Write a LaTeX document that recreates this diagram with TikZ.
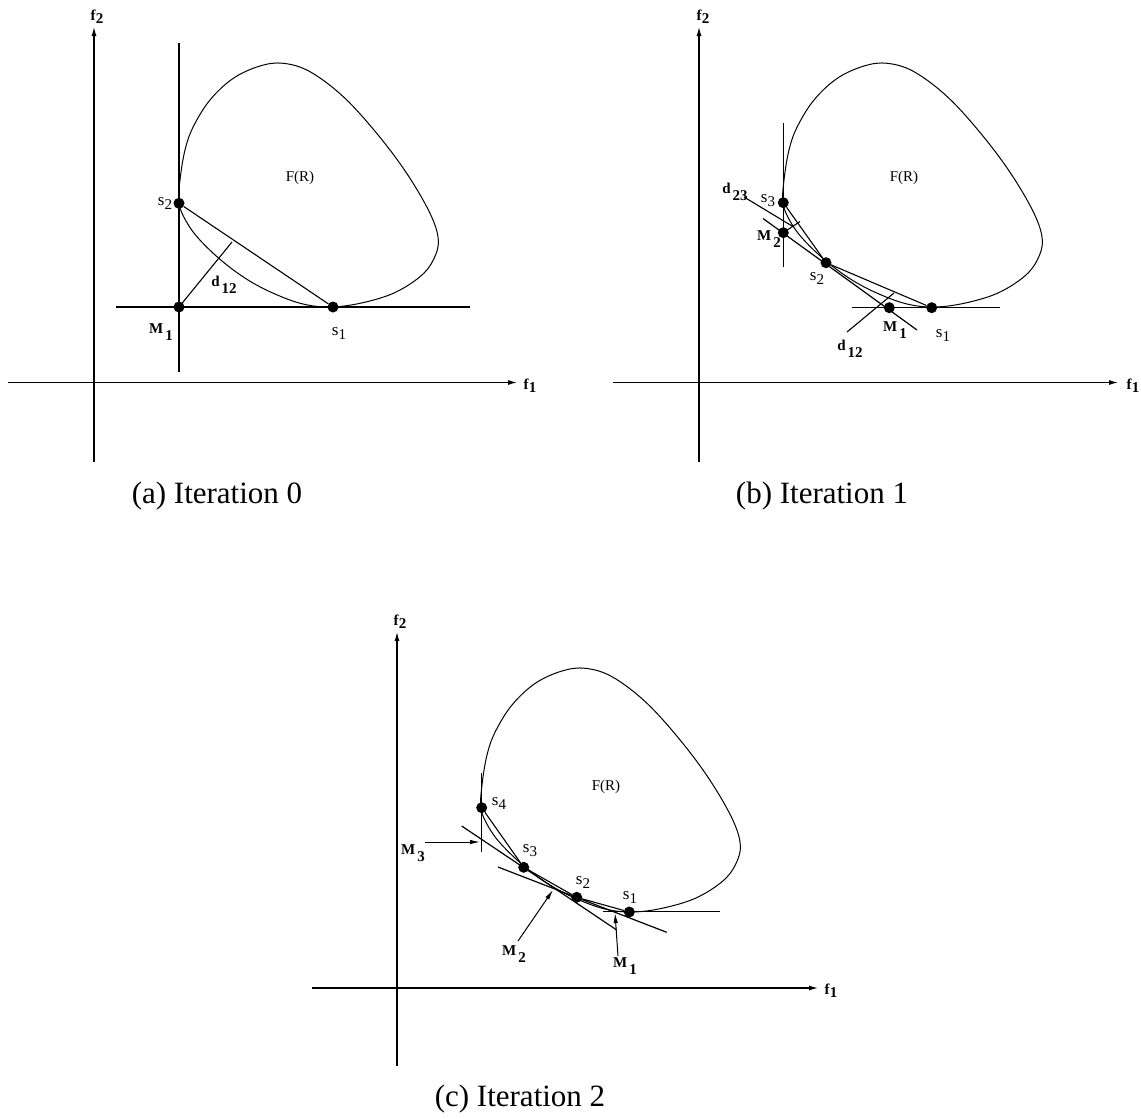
\documentclass[tikz,border=0pt]{standalone}
\usepackage{fontspec}
\setmainfont{Liberation Serif}
\usetikzlibrary{arrows.meta,positioning}

% labels: letter with a lowered index
\newcommand{\ssub}[2]{{\fontsize{17}{19}\selectfont #1}\raisebox{-4pt}{\fontsize{15}{17}\selectfont #2}}
\newcommand{\fsub}[1]{\textbf{f}\raisebox{-3pt}{\textbf{#1}}}
\newcommand{\bsub}[2]{\textbf{#1}\kern2pt\raisebox{-7pt}{\textbf{#2}}}
% the region F(R), drawn in the frame of panel (a)
\newcommand{\drawregion}[1]{%
  \draw[region,shift={#1}] plot[smooth cycle,tension=0.6] coordinates {
    (179,203.3) (180,180) (185,150) (193.3,126.7) (210,100) (233.3,78.3)
    (260,66) (283.3,63.3) (310,71.7) (343.3,96.7) (376.7,133.3) (406.7,173.3)
    (430,213.3) (438.3,240) (433.3,260) (420,276.7) (393.3,293.3) (360,303.3)
    (330,307) (303,304) (275,294) (248,280) (222,261) (199,239) (186,221)};}

\begin{document}
\begin{tikzpicture}[
    x=1pt, y=-1pt,
    region/.style={line width=1pt},
    axisline/.style={line width=1.1pt, -{Latex[length=9pt,width=5pt]}},
    tangent/.style={line width=1.2pt},
    chord/.style={line width=1.1pt},
    pointer/.style={line width=1pt, -{Latex[length=10pt,width=4.5pt]}},
    soln/.style={circle, fill, inner sep=0pt, minimum size=11pt},
    tag/.style={inner sep=0pt, font=\fontsize{15}{17}\selectfont},
    fr/.style={inner sep=0pt, font=\fontsize{15}{17}\selectfont},
    capt/.style={inner sep=0pt, font=\fontsize{31}{36}\selectfont}
]
\useasboundingbox (0,0) rectangle (1141,1119);

%% (a) iteration 0
\coordinate (aybot) at (94,462);
\coordinate (aytop) at (94,27);
\coordinate (axlft) at (8,382.5);
\coordinate (axrgt) at (517,382.5);
\draw[axisline] (aybot) -- (aytop);
\draw[axisline] (axlft) -- (axrgt);
\node[tag] (af2) at (97,17) {\fsub{2}};
\node[tag] (af1) at (530,386) {\fsub{1}};

\drawregion{(0,0)}
\node[fr] (aFR) at (300,178) {F(R)};

\coordinate (avtop) at (179,43);
\coordinate (avbot) at (179,372);
\coordinate (ahlft) at (116,307);
\coordinate (ahrgt) at (470,307);
\draw[tangent] (avtop) -- (avbot);
\draw[tangent] (ahlft) -- (ahrgt);

\node[soln] (as2) at (179,203.3) {};
\node[soln] (aM1) at (179,307) {};
\node[soln] (as1) at (333,307) {};
\coordinate (ad12) at (232,242);
\draw[chord] (as2) -- (as1);
\draw[chord] (aM1.center) -- (ad12);

\node[tag, left=1pt of as2] {\ssub{s}{2}};
\node[tag] at (161,332) {\bsub{M}{1}};
\node[tag] at (224,285) {\bsub{d}{12}};
\node[tag] at (339,333) {\ssub{s}{1}};

\node[capt] at (217,496) {(a) Iteration 0};

%% (b) iteration 1
\coordinate (bybot) at (699,462);
\coordinate (bytop) at (699,27);
\coordinate (bxlft) at (613,382.5);
\coordinate (bxrgt) at (1118,382.5);
\draw[axisline] (bybot) -- (bytop);
\draw[axisline] (bxlft) -- (bxrgt);
\node[tag] (bf2) at (703,17) {\fsub{2}};
\node[tag] (bf1) at (1133,386) {\fsub{1}};

\drawregion{(604,0)}
\node[fr] (bFR) at (904,178) {F(R)};

\coordinate (bvtop) at (783.3,123);
\coordinate (bvbot) at (783.3,267);
\coordinate (bhlft) at (851.7,307.7);
\coordinate (bhrgt) at (1000,307.7);
\coordinate (btlft) at (763,218.5);
\coordinate (btrgt) at (917,330);
\draw[tangent] (bvtop) -- (bvbot);
\draw[tangent] (bhlft) -- (bhrgt);
\draw[tangent] (btlft) -- (btrgt);

\node[soln] (bs3) at (783.3,202.7) {};
\node[soln] (bM2) at (783.3,232.7) {};
\node[soln] (bs2) at (826,262.7) {};
\node[soln] (bM1) at (889.3,307.7) {};
\node[soln] (bs1) at (931.7,307.7) {};
\draw[chord] (bs3) -- (bs2);
\draw[chord] (bs2) -- (bs1);

\coordinate (bd23) at (800,221.5);
\coordinate (bd23a) at (744,197);
\coordinate (bd23b) at (792,226);
\draw[chord] (bM2.center) -- (bd23);
\draw[chord] (bd23a) -- (bd23b);
\coordinate (bd12a) at (847,332);
\coordinate (bd12b) at (894,293);
\draw[chord] (bd12a) -- (bd12b);

\node[tag] at (735,192) {\bsub{d}{23}};
\node[tag] at (768,201) {\ssub{s}{3}};
\node[tag] at (769,239) {\bsub{M}{2}};
\node[tag] at (817,278) {\ssub{s}{2}};
\node[tag] at (895,330) {\bsub{M}{1}};
\node[tag] at (943,335) {\ssub{s}{1}};
\node[tag] at (850,349) {\bsub{d}{12}};

\node[capt] at (822,496) {(b) Iteration 1};

%% (c) iteration 2
\coordinate (cybot) at (397,1066);
\coordinate (cytop) at (397,632);
\coordinate (cxlft) at (312,988);
\coordinate (cxrgt) at (818,988);
\draw[axisline] (cybot) -- (cytop);
\draw[axisline] (cxlft) -- (cxrgt);
\node[tag] (cf2) at (400,622) {\fsub{2}};
\node[tag] (cf1) at (831,991) {\fsub{1}};

\drawregion{(302,605)}
\node[fr] (cFR) at (606,787) {F(R)};

\coordinate (cvtop) at (481.7,773);
\coordinate (cvbot) at (481.7,852);
\coordinate (cAlft) at (461.7,826);
\coordinate (cArgt) at (616.7,930);
\coordinate (cBlft) at (498,867);
\coordinate (cBrgt) at (666.7,932.3);
\coordinate (chlft) at (603,911.7);
\coordinate (chrgt) at (720,911.7);
\draw[tangent] (cvtop) -- (cvbot);
\draw[tangent] (cAlft) -- (cArgt);
\draw[tangent] (cBlft) -- (cBrgt);
\draw[tangent] (chlft) -- (chrgt);

\node[soln] (cs4) at (481.7,807.7) {};
\node[soln] (cs3) at (523.7,867.3) {};
\node[soln] (cs2) at (576.7,897.3) {};
\node[soln] (cs1) at (629.3,912) {};
\draw[chord] (cs4) -- (cs3);
\draw[chord] (cs3) -- (cs2);
\draw[chord] (cs2) -- (cs1);

\coordinate (cM3a) at (425,842);
\coordinate (cM3b) at (480,842);
\coordinate (cM2a) at (518,941);
\coordinate (cM2b) at (553,890);
\coordinate (cM1a) at (618,956);
\coordinate (cM1b) at (615,913);
\draw[pointer] (cM3a) -- (cM3b);
\draw[pointer] (cM2a) -- (cM2b);
\draw[pointer] (cM1a) -- (cM1b);

\node[tag] at (499,803) {\ssub{s}{4}};
\node[tag] at (530,851) {\ssub{s}{3}};
\node[tag] at (583,882) {\ssub{s}{2}};
\node[tag] at (630,897) {\ssub{s}{1}};
\node[tag] at (413,853) {\bsub{M}{3}};
\node[tag] at (514,954) {\bsub{M}{2}};
\node[tag] at (625,966) {\bsub{M}{1}};

\node[capt] at (520,1099) {(c) Iteration 2};
\end{tikzpicture}
\end{document}
